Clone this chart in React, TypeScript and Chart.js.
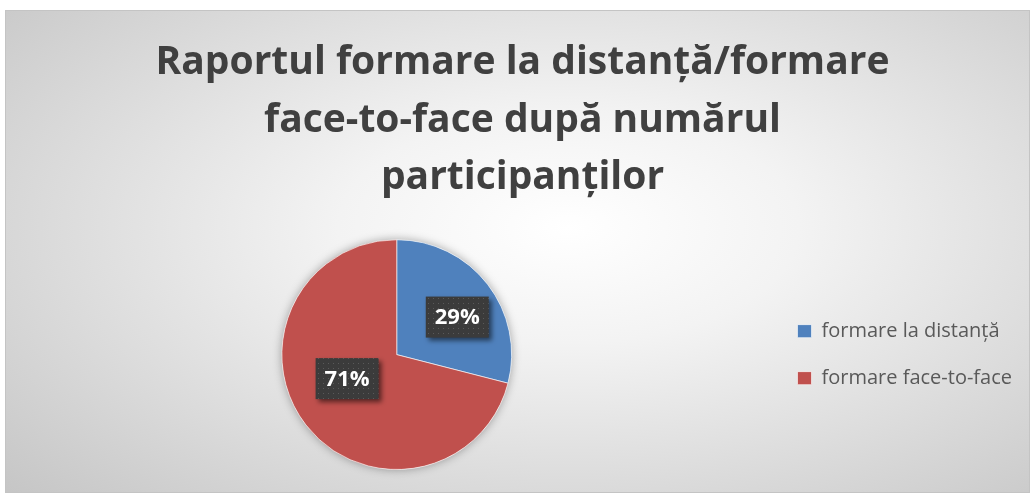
import React, { useEffect, useRef } from "react";
import { Chart, registerables } from "chart.js";

Chart.register(...registerables);

const titleLines = ["Raportul formare la distanță/formare", "face-to-face după numărul", "participanților"];
const categories = ["formare la distanță", "formare face-to-face"];
const shares = [29, 71];
const sliceColors = ["#4F81BD", "#C0504D"];
const labelRadius = [0.62, 0.48];
const labelAngleShift = [6, 12];

function makePattern(ctx: CanvasRenderingContext2D) {
  const c = document.createElement("canvas");
  c.width = 5;
  c.height = 5;
  const p = c.getContext("2d")!;
  p.fillStyle = "#3b3b3b";
  p.fillRect(0, 0, 5, 5);
  p.fillStyle = "#5a5a5a";
  p.fillRect(2, 2, 1, 1);
  return ctx.createPattern(c, "repeat");
}

const pieShadow = {
  id: "pieShadow",
  beforeDatasetsDraw(chart: any) {
    const arc = chart.getDatasetMeta(0).data[0];
    if (!arc) return;
    const { x, y, outerRadius } = arc.getProps(["x", "y", "outerRadius"], true);
    const ctx = chart.ctx;
    ctx.save();
    ctx.shadowColor = "rgba(0,0,0,0.35)";
    ctx.shadowBlur = 10;
    ctx.fillStyle = "#ffffff";
    ctx.beginPath();
    ctx.arc(x, y, outerRadius, 0, Math.PI * 2);
    ctx.fill();
    ctx.restore();
  },
};

const pctLabels = {
  id: "pctLabels",
  afterDatasetsDraw(chart: any) {
    const ctx = chart.ctx;
    const meta = chart.getDatasetMeta(0);
    const data = chart.data.datasets[0].data as number[];
    const total = data.reduce((a, b) => a + b, 0);
    const pattern = makePattern(ctx);
    meta.data.forEach((arc: any, i: number) => {
      const { x, y, startAngle, endAngle, outerRadius } = arc.getProps(
        ["x", "y", "startAngle", "endAngle", "outerRadius"],
        true
      );
      const a = (startAngle + endAngle) / 2 + (labelAngleShift[i] * Math.PI) / 180;
      const r = outerRadius * labelRadius[i];
      const cx = x + Math.cos(a) * r;
      const cy = y + Math.sin(a) * r;
      const text = Math.round((data[i] / total) * 100) + "%";
      ctx.save();
      ctx.font = "bold 22px 'Open Sans'";
      const tw = ctx.measureText(text).width;
      const w = tw + 18;
      const h = 41;
      ctx.shadowColor = "rgba(0,0,0,0.55)";
      ctx.shadowBlur = 5;
      ctx.shadowOffsetX = 3;
      ctx.shadowOffsetY = 3;
      ctx.fillStyle = pattern || "#3b3b3b";
      ctx.fillRect(cx - w / 2, cy - h / 2, w, h);
      ctx.shadowColor = "transparent";
      ctx.fillStyle = "#ffffff";
      ctx.textAlign = "center";
      ctx.textBaseline = "middle";
      ctx.fillText(text, cx, cy + 1);
      ctx.restore();
    });
  },
};

export default function App() {
  const ref = useRef<HTMLCanvasElement>(null);
  useEffect(() => {
    if (!ref.current) return;
    const chart = new Chart(ref.current, {
      type: "pie",
      data: {
        labels: categories,
        datasets: [
          {
            data: shares,
            backgroundColor: sliceColors,
            borderColor: "rgba(255,255,255,0.6)",
            borderWidth: 1,
            hoverOffset: 0,
          },
        ],
      },
      options: {
        responsive: false,
        animation: false,
        devicePixelRatio: 1,
        layout: { padding: { left: 17, right: 7, bottom: 22 } },
        plugins: {
          title: {
            display: true,
            text: titleLines,
            color: "#404040",
            font: { family: "'Open Sans'", size: 39, weight: "bold", lineHeight: 1.474 },
            padding: { top: 23.5, bottom: 32.3 },
          },
          legend: {
            display: true,
            position: "right",
            fullSize: false,
            labels: {
              color: "#595959",
              font: { family: "'Open Sans'", size: 20 },
              boxWidth: 14,
              boxHeight: 13,
              padding: 27,
            },
          },
          tooltip: { enabled: false },
        },
      },
      plugins: [pieShadow, pctLabels],
    });
    return () => chart.destroy();
  }, []);
  return (
    <div style={{ position: "fixed", left: 0, top: 0, width: 1034, height: 494, background: "#ffffff" }}>
      <div
        style={{
          position: "absolute",
          left: 5,
          top: 10,
          width: 1023,
          height: 481,
          border: "1px solid #c4c4c4",
          background: "radial-gradient(ellipse 75% 80% at 55% 45%, #ffffff 0%, #f3f3f3 30%, #c6c6c6 100%)",
        }}
      >
        <canvas ref={ref} width={1023} height={481} style={{ display: "block" }} />
      </div>
    </div>
  );
}
